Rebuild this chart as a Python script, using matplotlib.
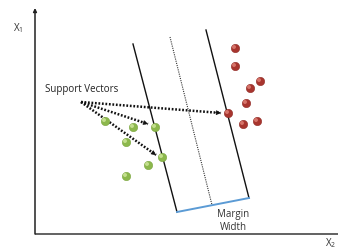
import matplotlib.pyplot as plt

# picture coordinates (x right, y down)
green_x = [105, 133, 155, 126, 162, 148, 126]
green_y = [122, 128, 128, 143, 158, 166, 177]
red_x = [235, 235, 260, 250, 246, 228, 243, 257]
red_y = [49, 67, 82, 89, 104, 114, 125, 122]

left_line_x = [133, 177]
left_line_y = [45, 213]
right_line_x = [206, 249]
right_line_y = [31, 199]
mid_line_x = [170, 212]
mid_line_y = [38, 206]
margin_x = [177, 249]
margin_y = [213, 199]

arrow_start = (81, 103)
arrow_ends = [(221, 114), (148, 125), (156, 156)]

W, H = 338, 253
fig = plt.figure(figsize=(W / 100, H / 100), dpi=100)
ax = fig.add_axes([0, 0, 1, 1])
ax.set_xlim(0, W)
ax.set_ylim(H, 0)
ax.axis("off")

font = ["Open Sans", "DejaVu Sans"]
axis_col = "#555555"

# coordinate axes
ax.plot([35, 338], [235, 235], color=axis_col, lw=1.3, solid_capstyle="butt")
ax.annotate("", xy=(35, 9), xytext=(35, 235),
            arrowprops=dict(arrowstyle="-|>", color="#222222", lw=1.1,
                            mutation_scale=5, shrinkA=0, shrinkB=0))

ax.text(13, 28, r"X$_\mathregular{1}$", fontsize=7, family=font,
        color="#333333", va="center")
ax.text(325, 243, r"X$_\mathregular{2}$", fontsize=7, family=font,
        color="#333333", va="center")

# hyperplanes
ax.plot(left_line_x, left_line_y, color="#111111", lw=1.0)
ax.plot(right_line_x, right_line_y, color="#111111", lw=1.0)
ax.plot(mid_line_x, mid_line_y, color="#333333", lw=0.8, ls=(0, (1, 1)))
ax.plot(margin_x, margin_y, color="#5b9bd5", lw=1.4)

# dotted arrows from label to support vectors
sx, sy = arrow_start
for ex, ey in arrow_ends:
    ax.plot([sx, ex], [sy, ey], color="#111111", lw=1.8,
            ls=(0, (0.7, 0.7)), dash_capstyle="butt")
    dx, dy = ex - sx, ey - sy
    ax.annotate("", xy=(ex, ey), xytext=(ex - dx * 0.04, ey - dy * 0.04),
                arrowprops=dict(arrowstyle="-|>", color="#111111", lw=0.5,
                                mutation_scale=7, shrinkA=0, shrinkB=0))

# points with a small highlight
ax.scatter(green_x, green_y, s=36, color="#8cb84c", edgecolors="#7aa53e",
           linewidths=0.4, zorder=5)
ax.scatter([x - 1 for x in green_x], [y - 1 for y in green_y], s=8,
           color="#c4df8e", edgecolors="none", zorder=6)
ax.scatter(red_x, red_y, s=36, color="#a8352e", edgecolors="#8f2a24",
           linewidths=0.4, zorder=5)
ax.scatter([x - 1 for x in red_x], [y - 1 for y in red_y], s=8,
           color="#d6746a", edgecolors="none", zorder=6)

ax.text(82, 89, "Support Vectors", fontsize=7, family=font,
        color="#222222", ha="center", va="center")
ax.text(233, 215, "Margin", fontsize=7, family=font, color="#333333",
        ha="center", va="center")
ax.text(233, 228, "Width", fontsize=7, family=font, color="#333333",
        ha="center", va="center")

fig.savefig("out.png", dpi=100)
